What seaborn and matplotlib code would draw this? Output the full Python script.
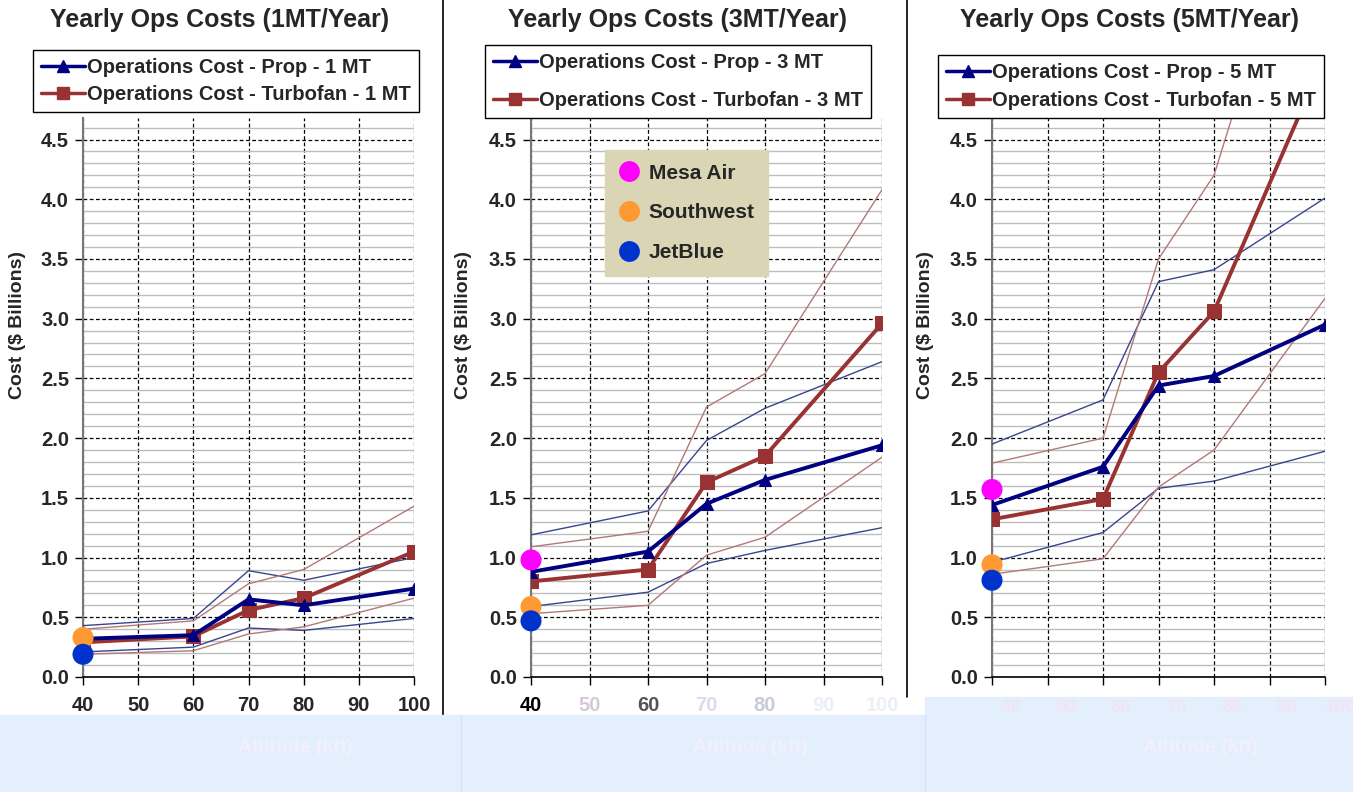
import numpy as np
import pandas as pd
import matplotlib.pyplot as plt
import seaborn as sns
from matplotlib.lines import Line2D
from matplotlib.patches import Rectangle

# altitude points (kft)
altitudes = [40, 60, 70, 80, 100]
x_ticks = [40, 50, 60, 70, 80, 90, 100]

# 1 MT / year
prop_1mt = [0.32, 0.35, 0.65, 0.60, 0.74]
turbo_1mt = [0.29, 0.34, 0.56, 0.66, 1.05]
prop_hi_1mt = [0.43, 0.49, 0.89, 0.81, 1.00]
prop_lo_1mt = [0.21, 0.25, 0.41, 0.39, 0.49]
turbo_hi_1mt = [0.40, 0.47, 0.78, 0.90, 1.43]
turbo_lo_1mt = [0.19, 0.22, 0.36, 0.42, 0.66]

# 3 MT / year
prop_3mt = [0.88, 1.05, 1.45, 1.65, 1.94]
turbo_3mt = [0.80, 0.90, 1.63, 1.85, 2.96]
prop_hi_3mt = [1.19, 1.39, 1.98, 2.25, 2.64]
prop_lo_3mt = [0.59, 0.71, 0.95, 1.06, 1.25]
turbo_hi_3mt = [1.09, 1.22, 2.26, 2.54, 4.08]
turbo_lo_3mt = [0.53, 0.60, 1.02, 1.17, 1.84]

# 5 MT / year
prop_5mt = [1.44, 1.76, 2.44, 2.52, 2.95]
turbo_5mt = [1.32, 1.49, 2.55, 3.06, 5.20]
prop_hi_5mt = [1.95, 2.32, 3.31, 3.41, 4.01]
prop_lo_5mt = [0.96, 1.21, 1.58, 1.64, 1.89]
turbo_hi_5mt = [1.79, 2.00, 3.50, 4.20, 7.20]
turbo_lo_5mt = [0.86, 0.99, 1.59, 1.90, 3.17]

# airline reference costs at 40 kft
airline_names = ["Mesa Air", "Southwest", "JetBlue"]
airline_colors = ["#ff00ff", "#ff9933", "#0033cc"]
airlines_1mt = [None, 0.33, 0.19]
airlines_3mt = [0.98, 0.59, 0.47]
airlines_5mt = [1.57, 0.94, 0.81]

panel_titles = ["Yearly Ops Costs (1MT/Year)", "Yearly Ops Costs (3MT/Year)", "Yearly Ops Costs (5MT/Year)"]
mt_labels = ["1 MT", "3 MT", "5 MT"]

sns.set_theme(style="white")
plt.rcParams['font.family'] = ['Liberation Sans', 'DejaVu Sans']
plt.rcParams['font.weight'] = 'bold'

W, H = 1353, 792
fig = plt.figure(figsize=(W / 100, H / 100), dpi=100)

NAVY = "#000080"
BROWN = "#993333"
THIN_BLUE = "#3a4590"
THIN_BROWN = "#b07a78"

# axes boxes in pixels: left, right
ax_px = [(83, 414), (531, 882), (992, 1325)]
y0_px, ytop_px = 677, 118


def fx(px):
    return px / W


def fy(py):
    return 1 - py / H


panels = [
    (prop_1mt, turbo_1mt, prop_hi_1mt, prop_lo_1mt, turbo_hi_1mt, turbo_lo_1mt, airlines_1mt),
    (prop_3mt, turbo_3mt, prop_hi_3mt, prop_lo_3mt, turbo_hi_3mt, turbo_lo_3mt, airlines_3mt),
    (prop_5mt, turbo_5mt, prop_hi_5mt, prop_lo_5mt, turbo_hi_5mt, turbo_lo_5mt, airlines_5mt),
]

legend_pos = [(33, 50, 0.4), (485, 45, 0.95), (938, 55, 0.45)]
title_x = [220, 677, 1130]
ylabel_x = [18, 463, 925]

axes = []
for i, (prop, turbo, p_hi, p_lo, t_hi, t_lo, air) in enumerate(panels):
    l, r = ax_px[i]
    ax = fig.add_axes([fx(l), fy(y0_px), fx(r - l), (y0_px - ytop_px) / H])
    axes.append(ax)
    ax.set_xlim(40, 100)
    ax.set_ylim(0, 4.68)

    # grid
    ax.set_yticks(np.arange(0, 4.51, 0.5))
    ax.set_yticks(np.arange(0, 4.68, 0.1), minor=True)
    ax.set_xticks(x_ticks)
    ax.grid(which='minor', axis='y', color='#bdbdbd', lw=1.0, ls='-')
    ax.grid(which='major', axis='y', color='black', lw=0.9, ls=(0, (3, 2)))
    ax.grid(which='major', axis='x', color='black', lw=0.9, ls=(0, (3, 2)))
    ax.set_axisbelow(True)

    df = pd.DataFrame({"alt": altitudes, "prop": prop, "turbo": turbo,
                       "p_hi": p_hi, "p_lo": p_lo, "t_hi": t_hi, "t_lo": t_lo})
    for col, c in [("p_hi", THIN_BLUE), ("p_lo", THIN_BLUE), ("t_hi", THIN_BROWN), ("t_lo", THIN_BROWN)]:
        sns.lineplot(data=df, x="alt", y=col, ax=ax, color=c, lw=1.0, zorder=3)
    sns.lineplot(data=df, x="alt", y="turbo", ax=ax, color=BROWN, lw=2.8, marker='s',
                 markersize=10, markeredgecolor=BROWN, zorder=4)
    sns.lineplot(data=df, x="alt", y="prop", ax=ax, color=NAVY, lw=2.8, marker='^',
                 markersize=9, markeredgecolor=NAVY, zorder=5)

    # airline dots
    for name, c, v in zip(airline_names, airline_colors, air):
        if v is None:
            continue
        ax.scatter([40], [v], s=230, color=c, zorder=6, clip_on=False, edgecolors='none')

    for s in ['top', 'right']:
        ax.spines[s].set_visible(False)
    ax.spines['left'].set_color('#777777')
    ax.spines['left'].set_linewidth(1.5)
    ax.spines['bottom'].set_color('black')
    ax.spines['bottom'].set_linewidth(1.2)
    ax.tick_params(axis='y', which='major', length=6, width=1, color='black', direction='out',
                   labelsize=14.5, pad=4, left=True)
    ax.tick_params(axis='y', which='minor', length=0)
    ax.tick_params(axis='x', length=6, width=1, color='black', direction='out', labelsize=14.5,
                   pad=8, bottom=True)
    ax.set_yticklabels([f"{v:.1f}" for v in np.arange(0, 4.51, 0.5)], fontweight='bold')
    if i < 2:
        ax.set_xticklabels([str(t) for t in x_ticks], fontweight='bold')
    else:
        ax.set_xticklabels([])
    ax.set_xlabel("")
    ax.set_ylabel("")

    fig.text(fx(ylabel_x[i]), fy(325), "Cost ($ Billions)", rotation=90, ha='center', va='center',
             fontsize=14, fontweight='bold')
    fig.text(fx(title_x[i]), fy(20), panel_titles[i], ha='center', va='center',
             fontsize=18, fontweight='bold')

    handles = [Line2D([], [], color=NAVY, lw=2.5, marker='^', markersize=8),
               Line2D([], [], color=BROWN, lw=2.5, marker='s', markersize=8)]
    labels = [f"Operations Cost - Prop - {mt_labels[i]}", f"Operations Cost - Turbofan - {mt_labels[i]}"]
    lx, ly, sp = legend_pos[i]
    leg = fig.legend(handles, labels, loc='upper left', bbox_to_anchor=(fx(lx), fy(ly)),
                     frameon=True, fancybox=False, edgecolor='black', framealpha=1,
                     prop={'weight': 'bold', 'size': 14.5}, handlelength=2.2, handletextpad=0.1,
                     labelspacing=sp, borderpad=0.4, borderaxespad=0)
    leg.get_frame().set_linewidth(1.0)

# tick label colours to mimic the washed-out lower rows
faint2 = ['black', '#d8c8d8', '#555555', '#e0d8ee', '#c9c9dd', '#eeeef6', '#eeeef6']
for lab, c in zip(axes[1].get_xticklabels(), faint2):
    lab.set_color(c)

# airline legend in the 3 MT panel
air_handles = [Line2D([], [], ls='none', marker='o', markersize=15, color=c, markeredgecolor='none')
               for c in airline_colors]
aleg = axes[1].legend(air_handles, airline_names, loc='upper left',
                      bbox_to_anchor=((605 - 531) / (882 - 531), (677 - 150) / (677 - 118)),
                      frameon=True, fancybox=False, facecolor='#d9d5b5', edgecolor='#d9d5b5',
                      framealpha=1, prop={'weight': 'bold', 'size': 15}, handlelength=1.0,
                      handletextpad=0.45, labelspacing=1.0, borderpad=0.65, borderaxespad=0)
aleg.set_zorder(10)

# bottom band and separators
fig.patches.append(Rectangle((0, 0), 1, fy(715), transform=fig.transFigure, color='#e3effd', zorder=20))
fig.patches.append(Rectangle((fx(925), 0), 1, fy(697), transform=fig.transFigure, color='#e3effd', zorder=20))
fig.add_artist(Line2D([fx(443), fx(443)], [fy(715), 1], color='black', lw=1.2, transform=fig.transFigure))
fig.add_artist(Line2D([fx(907), fx(907)], [fy(697), 1], color='black', lw=1.2, transform=fig.transFigure))
fig.add_artist(Line2D([fx(461), fx(461)], [0, fy(715)], color='#d6e4f6', lw=1, transform=fig.transFigure, zorder=21))
fig.add_artist(Line2D([fx(925), fx(925)], [0, fy(715)], color='#d6e4f6', lw=1, transform=fig.transFigure, zorder=21))
for xc in [295, 750, 1200]:
    fig.text(fx(xc), fy(748), "Altitude (kft)", ha='center', va='center', fontsize=14,
             color='#f3f0fd', zorder=22)
for xv, lab in zip([1011, 1066, 1121, 1177, 1232, 1287, 1340], [str(t) for t in x_ticks]):
    fig.text(fx(xv), fy(707), lab, ha='center', va='center', fontsize=13.5, color='#f2e4f6', zorder=22)

fig.savefig("out.png", dpi=100)
